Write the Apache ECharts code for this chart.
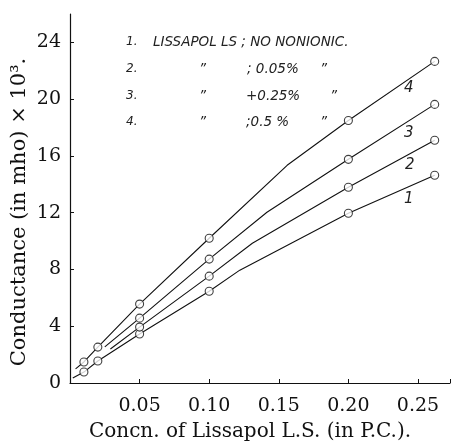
<!DOCTYPE html>
<html>
<head>
<meta charset="utf-8">
<script src="https://cdn.jsdelivr.net/npm/echarts@6/dist/echarts.min.js"></script>
<style>
  html, body { margin: 0; padding: 0; background: #fff; }
  #chart { width: 455px; height: 447px; }
</style>
</head>
<body>
<div id="chart"></div>
<script>
// concentration of Lissapol L.S. (P.C.) where readings were taken
const conc = [0.01, 0.02, 0.05, 0.10, 0.20, 0.262]

// conductance x 10^3 (mho), null = no reading at that concentration
const curve1 = [0.77, 1.55, 3.45, 6.47, 11.96, 14.64]  // no nonionic
const curve2 = [null, null, 3.94, 7.53, 13.79, 17.10]  // + 0.05 %
const curve3 = [null, null, 4.57, 8.73, 15.76, 19.63]  // + 0.25 %
const curve4 = [1.48, 2.53, 5.56, 10.2, 18.5, 22.66]   // + 0.5 %

// drawn line vertices without a plotted reading (start of line, break of slope)
const curve1Extra = [[0.002, 0.35], [0.122, 7.95]]
const curve2Extra = [[0.029, 2.4], [0.131, 9.85]]
const curve3Extra = [[0.025, 2.55], [0.1415, 12.03]]
const curve4Extra = [[0.004, 1.0], [0.156, 15.34]]

const curveNames = ['1', '2', '3', '4']
const xTicks = [0.05, 0.10, 0.15, 0.20, 0.25]

const serif = 'DejaVu Serif'
const hand = 'DejaVu Sans'

const readings = (vals) => conc.map((x, i) => [x, vals[i]]).filter(p => p[1] != null)
const path = (vals, extra) => readings(vals).concat(extra).sort((a, b) => a[0] - b[0])

const curves = [
    { vals: curve1, extra: curve1Extra },
    { vals: curve2, extra: curve2Extra },
    { vals: curve3, extra: curve3Extra },
    { vals: curve4, extra: curve4Extra },
]

const series = []
curves.forEach((c, i) => {
    series.push({
        name: 'line' + curveNames[i],
        type: 'line',
        data: path(c.vals, c.extra),
        showSymbol: false,
        lineStyle: { color: '#111', width: 1.1 },
        z: 2,
        silent: true,
    })
    series.push({
        name: 'pts' + curveNames[i],
        type: 'scatter',
        data: readings(c.vals),
        symbol: 'circle',
        symbolSize: 8,
        itemStyle: { color: '#fff', borderColor: '#111', borderWidth: 1.1 },
        z: 3,
        silent: true,
    })
})

const annot = (x, y, text, size) => ({
    type: 'text', x, y,
    style: { text, font: 'italic ' + (size || 13.5) + 'px "' + hand + '"', fill: '#222', textVerticalAlign: 'middle' },
})

const chart = echarts.init(document.getElementById('chart'), null, { renderer: 'canvas' })
chart.setOption({
    animation: false,
    backgroundColor: '#fff',
    grid: { left: 70, right: 5, top: 14, bottom: 64 },
    xAxis: {
        type: 'value',
        min: 0,
        max: 0.273,
        interval: 0.05,
        axisLine: { lineStyle: { color: '#111', width: 1.2 } },
        axisTick: { inside: true, length: 4, lineStyle: { color: '#111' } },
        splitLine: { show: false },
        axisLabel: {
            margin: 14,
            color: '#111',
            fontFamily: serif,
            fontSize: 19,
            formatter: v => xTicks.some(t => Math.abs(t - v) < 1e-6) ? v.toFixed(2) : '',
        },
    },
    yAxis: {
        type: 'value',
        min: 0,
        max: 26,
        interval: 4,
        axisLine: { show: true, lineStyle: { color: '#111', width: 1.2 } },
        axisTick: { show: true, inside: true, length: 4, lineStyle: { color: '#111' } },
        splitLine: { show: false },
        axisLabel: {
            margin: 9,
            color: '#111',
            fontFamily: serif,
            fontSize: 19,
            showMaxLabel: false,
        },
    },
    graphic: [
        {
            type: 'text', x: 20, y: 212, rotation: Math.PI / 2,
            style: {
                text: 'Conductance (in mho) × 10³.', font: '21px "' + serif + '"', fill: '#111',
                textAlign: 'center', textVerticalAlign: 'middle',
            },
        },
        {
            type: 'text', x: 250, y: 432,
            style: {
                text: 'Concn. of Lissapol L.S. (in P.C.).', font: '20px "' + serif + '"', fill: '#111',
                textAlign: 'center', textVerticalAlign: 'middle',
            },
        },
        annot(126, 42, '1.', 12),
        annot(153, 42, 'LISSAPOL LS ; NO NONIONIC.'),
        annot(126, 69, '2.', 12),
        annot(199, 69, '”'),
        annot(247, 69, '; 0.05%'),
        annot(320, 69, '”'),
        annot(126, 96, '3.', 12),
        annot(199, 96, '”'),
        annot(246, 96, '+0.25%'),
        annot(330, 96, '”'),
        annot(126, 122, '4.', 12),
        annot(199, 122, '”'),
        annot(246, 122, ';0.5 %'),
        annot(320, 122, '”'),
        annot(404, 88, '4', 15),
        annot(404, 133, '3', 15),
        annot(405, 165, '2', 15),
        annot(404, 199, '1', 15),
    ],
    series,
})
</script>
</body>
</html>
